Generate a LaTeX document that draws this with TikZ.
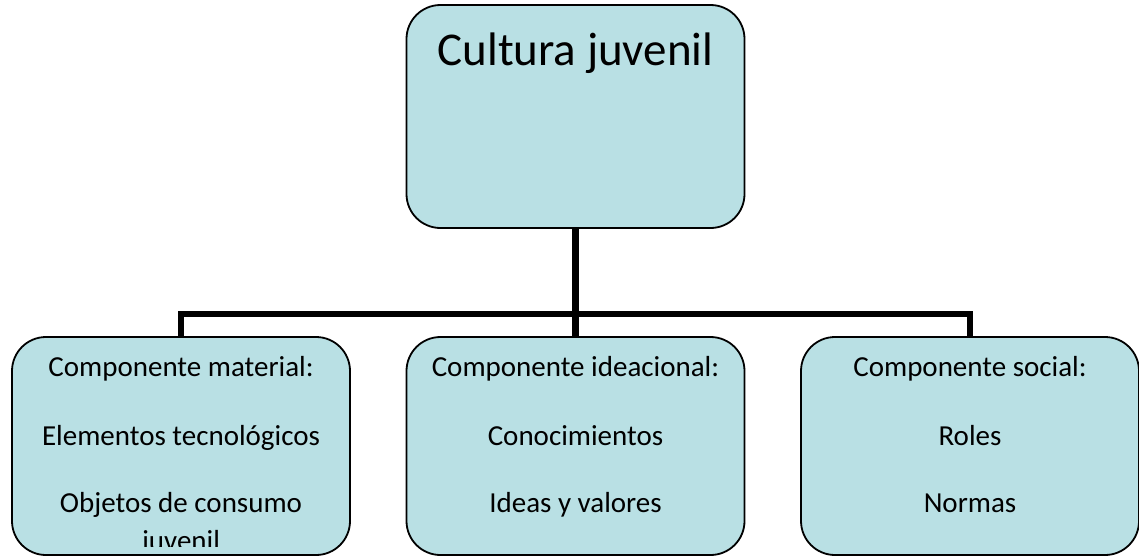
\documentclass[tikz,border=0pt]{standalone}
\usepackage{fontspec}
\setmainfont{Carlito}
\definecolor{boxfill}{RGB}{185,224,228}
\tikzset{
  box/.style={draw=black, line width=1.8pt, fill=boxfill, rounded corners=34pt, inner sep=0pt, minimum width=338pt},
  conn/.style={draw=black, line width=6.5pt, line join=miter},
  small/.style={font=\fontsize{29}{35}\selectfont, inner sep=0pt, anchor=base},
  big/.style={font=\fontsize{47}{56}\selectfont, inner sep=0pt, anchor=base}
}
\begin{document}
\begin{tikzpicture}[x=1pt,y=-1pt]
\useasboundingbox (0,0) rectangle (1139,557);
% boxes
\node[box, minimum height=223pt] (top) at (575.5,116.5) {};
\node[box, minimum height=218pt] (bl) at (181,446) {};
\node[box, minimum height=218pt] (bm) at (575.5,446) {};
\node[box, minimum height=218pt] (br) at (970,446) {};
% connectors
\coordinate (j) at (575.5,314);
\draw[conn] (top.south) -- (bm.north);
\draw[conn] (bl.north) |- (j) -| (br.north);
% texts
\node[big] (t0) at (575.5,65) {Cultura juvenil};
\node[small] (l1) at (181,376.7) {Componente material:};
\node[small] (l2) at (181,445) {Elementos tecnológicos};
\begin{scope}
\clip (0,330) rectangle (1139,546.5);
\node[small] (l3) at (181,512) {Objetos de consumo};
\node[small] (l4) at (181,550.5) {juvenil};
\end{scope}
\node[small] (m1) at (575.5,376.7) {Componente ideacional:};
\node[small] (m2) at (575.5,445) {Conocimientos};
\node[small] (m3) at (575.5,512) {Ideas y valores};
\node[small] (r1) at (970,376.7) {Componente social:};
\node[small] (r2) at (970,445) {Roles};
\node[small] (r3) at (970,512) {Normas};
\end{tikzpicture}
\end{document}
